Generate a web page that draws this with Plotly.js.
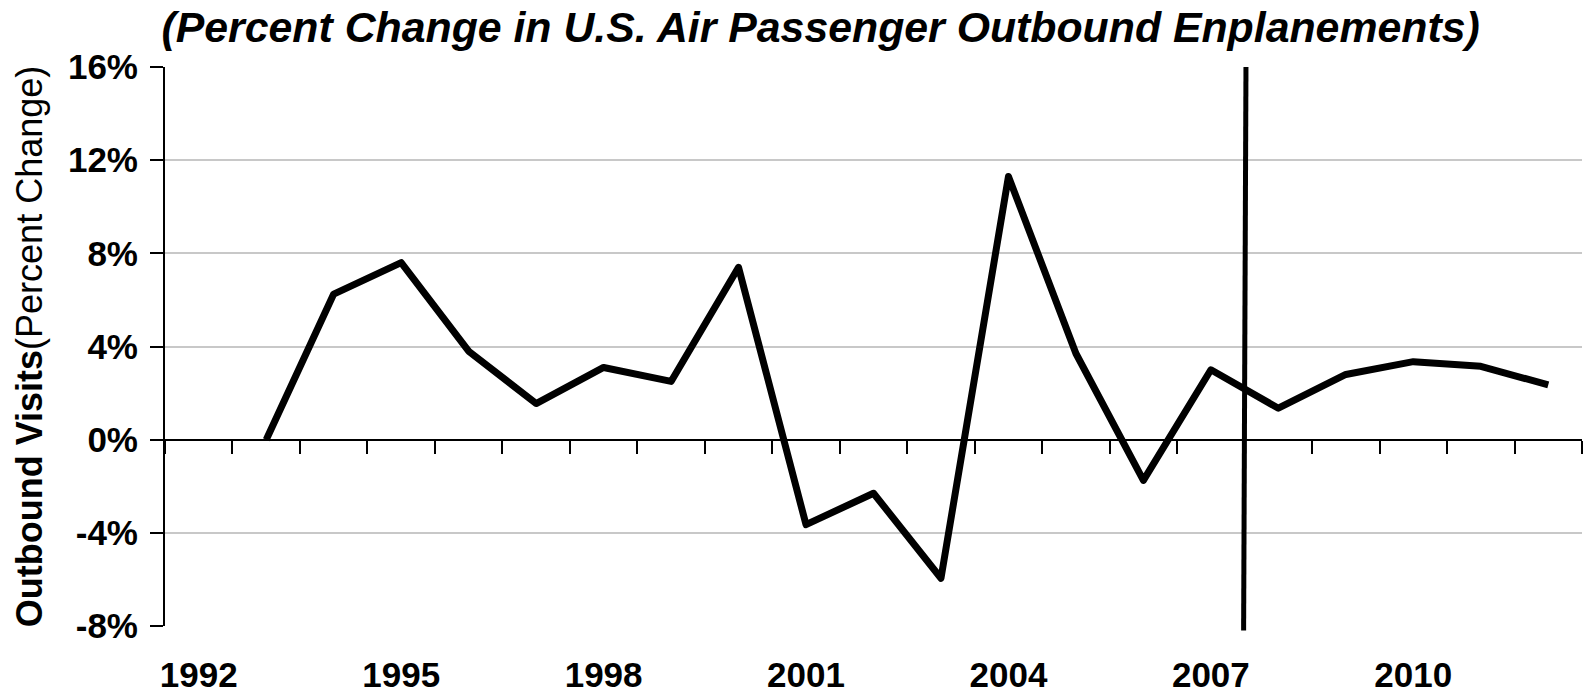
<!DOCTYPE html>
<html>
<head>
<meta charset="utf-8">
<script src="https://cdn.plot.ly/plotly-3.0.1.min.js"></script>
<style>
html,body{margin:0;padding:0;background:#fff;}
#chart{width:1583px;height:694px;}
#chart path.js-line{stroke-linejoin:round;stroke-linecap:butt;}
</style>
</head>
<body>
<div id="chart"></div>
<script>
// Data
const years = ['1992','1993','1994','1995','1996','1997','1998','1999','2000','2001','2002',
               '2003','2004','2005','2006','2007','2008','2009','2010','2011','2012'];
const pctChange = [null, 0.0, 6.25, 7.6, 3.8, 1.55, 3.1, 2.5, 7.4, -3.65, -2.3,
                   -5.95, 11.3, 3.7, -1.75, 3.0, 1.35, 2.8, 3.35, 3.15, 2.35];
const xTickLabels = ['1992','1995','1998','2001','2004','2007','2010'];
const yTickValues = [-8, -4, 0, 4, 8, 12, 16];
const yTickText = ['-8%', '-4%', '0%', '4%', '8%', '12%', '16%'];
const dividerBetween = ['2007','2008'];   // vertical marker between these years
const yRange = [-8, 16];

const FONT = 'Liberation Sans, Arial, sans-serif';
const dividerX = (years.indexOf(dividerBetween[0]) + years.indexOf(dividerBetween[1])) / 2;
const toPaperY = v => (v - yRange[0]) / (yRange[1] - yRange[0]);

const traces = [
  {
    x: years, y: pctChange, type: 'scatter', mode: 'lines',
    line: {color: '#000', width: 7}, connectgaps: false,
    xaxis: 'x', yaxis: 'y', hoverinfo: 'x+y', showlegend: false
  },
  {
    // carries the zero-line axis (x2) with its boundary ticks
    x: years, y: pctChange, type: 'scatter', mode: 'lines',
    line: {color: 'rgba(0,0,0,0)', width: 0},
    xaxis: 'x2', yaxis: 'y', hoverinfo: 'skip', showlegend: false
  }
];

const layout = {
  width: 1583, height: 694,
  margin: {l: 164.5, r: 1, t: 66.7, b: 68.3, pad: 0},
  paper_bgcolor: '#fff', plot_bgcolor: '#fff',
  font: {family: FONT, color: '#000'},
  showlegend: false,
  title: {
    text: '<b><i>(Percent Change in U.S. Air Passenger Outbound Enplanements)</i></b>',
    font: {family: FONT, size: 42.8, color: '#000'},
    xref: 'container', x: 161.5 / 1583, xanchor: 'left',
    yref: 'container', y: 1 - 27 / 694, yanchor: 'middle'
  },
  xaxis: {
    type: 'category', categoryorder: 'array', categoryarray: years,
    range: [-0.5, years.length - 0.5],
    tickvals: xTickLabels, ticktext: xTickLabels,
    ticks: '', showline: false, showgrid: false, zeroline: false,
    tickfont: {family: FONT, size: 35, color: '#000', weight: 'bold'},
    ticklabelstandoff: 25,
    fixedrange: true
  },
  xaxis2: {
    type: 'category', categoryorder: 'array', categoryarray: years,
    range: [-0.5, years.length - 0.5],
    overlaying: 'x', anchor: 'free', position: toPaperY(0), side: 'bottom',
    showline: true, linecolor: '#000', linewidth: 2,
    ticks: 'outside', tickson: 'boundaries', ticklen: 13, tickwidth: 2, tickcolor: '#000',
    showticklabels: false, showgrid: false, zeroline: false,
    fixedrange: true
  },
  yaxis: {
    range: yRange, tickvals: yTickValues, ticktext: yTickText,
    showgrid: true, gridcolor: '#c8c8c8', gridwidth: 2,
    zeroline: false,
    showline: true, linecolor: '#000', linewidth: 2,
    ticks: 'outside', ticklen: 13, tickwidth: 2, tickcolor: '#000',
    tickfont: {family: FONT, size: 35, color: '#000', weight: 'bold'},
    ticklabelstandoff: 5,
    title: {
      text: '<b>Outbound Visits</b>(Percent Change)',
      font: {family: FONT, size: 36, color: '#000'},
      standoff: 14
    },
    fixedrange: true
  },
  shapes: [
    {
      type: 'line', xref: 'x', yref: 'paper',
      x0: dividerX + 0.02, y0: toPaperY(16), x1: dividerX - 0.015, y1: toPaperY(-8.19),
      line: {color: '#000', width: 5}
    }
  ]
};

Plotly.newPlot('chart', traces, layout, {displayModeBar: false, staticPlot: true});
</script>
</body>
</html>
